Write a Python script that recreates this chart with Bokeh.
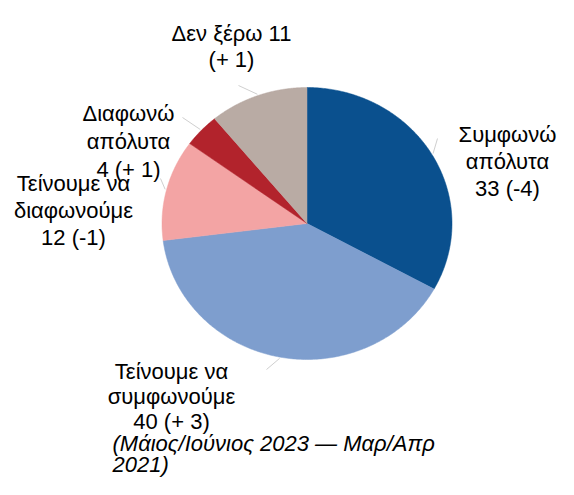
import numpy as np
from bokeh.plotting import figure
from bokeh.models import ColumnDataSource, Range1d
from bokeh.core.properties import value
from bokeh.embed import file_html
from bokeh.resources import INLINE

# ---- data ----
categories = ["Συμφωνώ απόλυτα", "Τείνουμε να συμφωνούμε", "Τείνουμε να διαφωνούμε",
              "Διαφωνώ απόλυτα", "Δεν ξέρω"]
values = [33, 40, 12, 4, 11]
changes = ["-4", "+ 3", "-1", "+ 1", "+ 1"]
label_lines = [
    ["Συμφωνώ", "απόλυτα", "33 (-4)"],
    ["Τείνουμε να", "συμφωνούμε", "40 (+ 3)"],
    ["Τείνουμε να", "διαφωνούμε", "12 (-1)"],
    ["Διαφωνώ", "απόλυτα", "4 (+ 1)"],
    ["Δεν ξέρω 11", "(+ 1)"],
]
note_lines = ["(Μάιος/Ιούνιος 2023 — Μαρ/Απρ", "2021)"]

# ---- style / layout ----
colors = ["#0A508E", "#7E9ECE", "#F3A4A4", "#B2232C", "#B9ABA4"]
W, H = 558, 479
cx, cy, rx, ry = 306.5, 223.0, 145.0, 136.0
label_cx = [507, 171, 73, 128, 231]
label_y0 = [134, 371, 183, 113, 33]
line_hs = [27, 25, 27, 28, 26]
leader_end = [(437, 138), (266, 369), (160, 178), (182, 117), (238, 85)]
FONT = "Liberation Sans"
FS = "22px"

p = figure(width=W, height=H, output_backend="svg", toolbar_location=None,
           x_range=Range1d(0, W), y_range=Range1d(H, 0),
           min_border=0, outline_line_color=None, background_fill_color="white",
           border_fill_color="white")
p.axis.visible = False
p.grid.visible = False

total = float(sum(values))
fracs = np.array(values) / total
ends = np.pi / 2 - 2 * np.pi * np.cumsum(fracs)
starts = np.concatenate([[np.pi / 2], ends[:-1]])

xs, ys = [], []
for a0, a1 in zip(starts, ends):
    th = np.linspace(a0, a1, 200)
    xs.append(list(np.concatenate([[cx], cx + rx * np.cos(th)])))
    ys.append(list(np.concatenate([[cy], cy - ry * np.sin(th)])))
p.patches(xs="xs", ys="ys", fill_color="color", line_color="color", line_width=0.5,
          source=ColumnDataSource(dict(xs=xs, ys=ys, color=colors, cat=categories)))

# leader lines
mids = (starts + ends) / 2
x0 = cx + rx * 1.01 * np.cos(mids)
y0 = cy - ry * 1.01 * np.sin(mids)
p.segment(x0=list(x0), y0=list(y0),
          x1=[e[0] for e in leader_end], y1=[e[1] for e in leader_end],
          line_color="#CFCFCF", line_width=1)

# labels
tx, ty, tt = [], [], []
for lines, lx, ly, lh in zip(label_lines, label_cx, label_y0, line_hs):
    for i, s in enumerate(lines):
        tx.append(lx)
        ty.append(ly + i * lh)
        tt.append(s)
p.text(x="x", y="y", text="t", source=ColumnDataSource(dict(x=tx, y=ty, t=tt)),
       text_align="center", text_baseline="alphabetic",
       text_font=value(FONT), text_font_size=FS, text_color="#000000")

p.text(x=[112, 112], y=[443, 464], text=note_lines,
       text_align="left", text_baseline="alphabetic",
       text_font=value(FONT), text_font_size=FS, text_font_style="italic",
       text_color="#000000")

open("out.html", "w").write(file_html(p, INLINE))
